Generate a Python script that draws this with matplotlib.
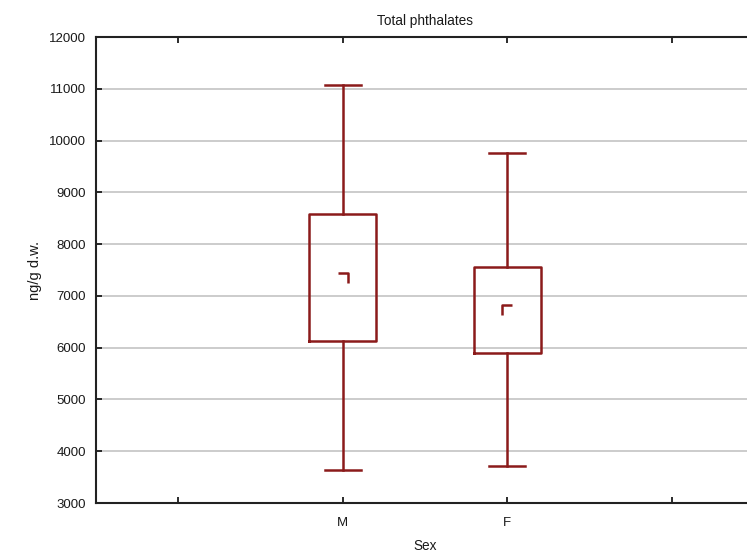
import matplotlib
matplotlib.use("Agg")
import matplotlib.pyplot as plt
from matplotlib.path import Path

# ---- data ----
categories = ["M", "F"]
positions = [1, 2]
whisker_low = [3640, 3720]
box_low = [6120, 5890]
means = [7350, 6730]
box_high = [8590, 7550]
whisker_high = [11070, 9760]
xtick_positions = [0, 1, 2, 3]
xtick_labels = ["", "M", "F", ""]
ytick_values = list(range(3000, 12001, 1000))

red = "#8b1a1a"
plt.rcParams["font.family"] = ["Liberation Sans", "DejaVu Sans"]

fig = plt.figure(figsize=(7.47, 5.59), dpi=100)
ax = fig.add_axes([96 / 747, (559 - 503) / 559, (754 - 96) / 747, (503 - 37) / 559])

stats = []
for i, c in enumerate(categories):
    stats.append(dict(label=c, whislo=whisker_low[i], q1=box_low[i], med=means[i],
                      q3=box_high[i], whishi=whisker_high[i], fliers=[]))

ax.bxp(stats, positions=positions, widths=0.405, capwidths=0.22, showfliers=False,
       boxprops=dict(color=red, linewidth=1.8),
       whiskerprops=dict(color=red, linewidth=1.8),
       capprops=dict(color=red, linewidth=1.8),
       medianprops=dict(linestyle="none"),
       manage_ticks=False, zorder=3)

# mean markers: partial squares
m_path = Path([(-1, 1), (1, 1), (1, -1)], [Path.MOVETO, Path.LINETO, Path.LINETO])
f_path = Path([(1, 1), (-1, 1), (-1, -1)], [Path.MOVETO, Path.LINETO, Path.LINETO])
for pos, mval, mk in zip(positions, means, [m_path, f_path]):
    ax.plot([pos], [mval], marker=mk, markersize=6.8, markeredgewidth=1.8,
            markeredgecolor=red, markerfacecolor="none", linestyle="none", zorder=4)

ax.set_xlim(-0.5, 3.5)
ax.set_ylim(3000, 12000)
ax.set_xticks(xtick_positions)
ax.set_xticklabels(xtick_labels)
ax.set_yticks(ytick_values)
ax.set_yticklabels([str(v) for v in ytick_values])
ax.tick_params(axis="both", direction="in", length=4, width=1.3, labelsize=9.5,
               colors="#1a1a1a", top=True)
ax.tick_params(axis="x", pad=10)
ax.tick_params(axis="y", pad=7)
ax.yaxis.grid(True, color="#c8c8c8", linewidth=1.3, zorder=0)
ax.set_axisbelow(True)
for s in ax.spines.values():
    s.set_linewidth(1.5)
    s.set_color("#222222")

ax.set_title("Total phthalates", fontsize=9.8, pad=9, color="#1a1a1a")
ax.set_ylabel("ng/g d.w.", fontsize=10.5, labelpad=5, color="#1a1a1a")
ax.set_xlabel("Sex", fontsize=9.8, labelpad=7, color="#1a1a1a")

fig.savefig("out.png", dpi=100)
